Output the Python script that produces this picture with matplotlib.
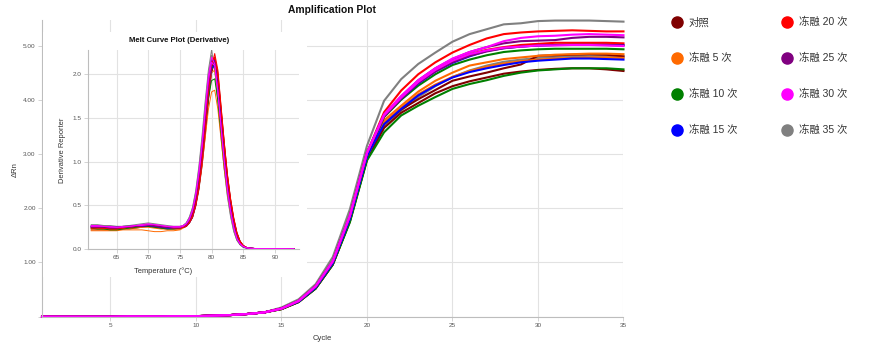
import numpy as np
import matplotlib.pyplot as plt
from matplotlib.lines import Line2D
from matplotlib.patches import Rectangle

plt.rcParams['font.family'] = ['Liberation Sans', 'Noto Sans CJK SC', 'DejaVu Sans']

# --- amplification data (delta Rn per cycle), two wells per group ---
cycles = np.arange(1, 36)
early = [0.0, 0.0, 0.0, 0.0, 0.0, 0.005, 0.005, 0.005, 0.01, 0.01, 0.02, 0.03, 0.05, 0.08]

# cycles 15..35
amp_ctrl_a = [.14, .27, .52, .96, 1.76, 2.90, 3.55, 3.82, 4.01, 4.18, 4.35, 4.43, 4.50, 4.58, 4.65, 4.81, 4.82, 4.83, 4.84, 4.83, 4.80]
amp_ctrl_b = [.14, .27, .52, .96, 1.76, 2.90, 3.48, 3.76, 3.94, 4.12, 4.25, 4.34, 4.41, 4.48, 4.52, 4.55, 4.57, 4.58, 4.58, 4.56, 4.53]
amp_5_a = [.15, .28, .54, .99, 1.81, 2.96, 3.62, 3.89, 4.15, 4.35, 4.50, 4.63, 4.69, 4.75, 4.78, 4.81, 4.83, 4.84, 4.85, 4.85, 4.84]
amp_5_b = [.15, .28, .54, .99, 1.81, 2.96, 3.58, 3.85, 4.10, 4.28, 4.42, 4.53, 4.61, 4.67, 4.71, 4.74, 4.76, 4.77, 4.78, 4.78, 4.77]
amp_10_a = [.15, .28, .54, .99, 1.81, 2.96, 3.68, 4.00, 4.26, 4.47, 4.64, 4.74, 4.82, 4.88, 4.91, 4.93, 4.94, 4.94, 4.94, 4.94, 4.93]
amp_10_b = [.14, .27, .52, .96, 1.74, 2.88, 3.40, 3.71, 3.89, 4.05, 4.20, 4.29, 4.36, 4.44, 4.50, 4.54, 4.56, 4.58, 4.58, 4.58, 4.56]
amp_15_a = [.15, .28, .54, .99, 1.81, 2.96, 3.55, 3.83, 4.08, 4.26, 4.41, 4.51, 4.58, 4.64, 4.69, 4.72, 4.74, 4.76, 4.76, 4.75, 4.74]
amp_15_b = [.15, .28, .54, .99, 1.81, 2.96, 3.70, 4.02, 4.30, 4.52, 4.68, 4.80, 4.90, 4.95, 4.98, 5.00, 5.01, 5.02, 5.02, 5.02, 5.01]
amp_20_a = [.15, .29, .56, 1.02, 1.86, 3.02, 3.77, 4.17, 4.47, 4.69, 4.87, 5.01, 5.13, 5.21, 5.24, 5.26, 5.27, 5.28, 5.27, 5.26, 5.26]
amp_20_b = [.15, .29, .56, 1.02, 1.86, 3.02, 3.70, 4.04, 4.33, 4.55, 4.72, 4.84, 4.92, 4.97, 5.01, 5.03, 5.05, 5.05, 5.05, 5.05, 5.04]
amp_25_a = [.15, .29, .56, 1.02, 1.86, 3.02, 3.72, 4.06, 4.36, 4.58, 4.75, 4.88, 4.97, 5.04, 5.08, 5.09, 5.10, 5.14, 5.16, 5.16, 5.15]
amp_25_b = [.15, .29, .56, 1.02, 1.86, 3.02, 3.69, 4.02, 4.31, 4.52, 4.69, 4.81, 4.89, 4.95, 4.98, 5.00, 5.01, 5.01, 5.01, 5.01, 5.00]
amp_30_a = [.15, .29, .56, 1.02, 1.86, 3.02, 3.73, 4.07, 4.36, 4.58, 4.76, 4.88, 4.97, 5.08, 5.14, 5.17, 5.18, 5.20, 5.21, 5.20, 5.19]
amp_30_b = [.15, .29, .56, 1.02, 1.86, 3.02, 3.71, 4.04, 4.33, 4.55, 4.72, 4.84, 4.91, 4.96, 4.98, 5.00, 5.00, 5.01, 5.01, 5.00, 4.99]
amp_35_a = [.17, .32, .60, 1.10, 1.98, 3.15, 3.98, 4.38, 4.66, 4.87, 5.07, 5.21, 5.30, 5.39, 5.41, 5.45, 5.46, 5.46, 5.46, 5.45, 5.44]
amp_35_b = [.15, .28, .54, .99, 1.81, 2.96, 3.50, 3.80, 4.05, 4.25, 4.42, 4.54, 4.63, 4.70, 4.74, 4.77, 4.79, 4.80, 4.81, 4.81, 4.80]

# --- melt curve data (derivative reporter) ---
temps = np.concatenate([np.arange(61, 76), np.arange(75.5, 86.5, 0.5), np.arange(87, 94)])

melt_ctrl_a = [.22, .22, .22, .22, .22, .23, .23, .24, .25, .26, .25, .24, .23, .23, .23,
               .25, .26, .30, .37, .50, .70, .98, 1.33, 1.74, 2.06, 2.20, 2.02, 1.62, 1.22, .85, .57, .35, .19, .09, .04, .02, .01,
               .006, .005, .005, .004, .004, .003, .002]
melt_ctrl_b = [.24, .24, .24, .23, .23, .24, .25, .25, .26, .27, .26, .25, .24, .24, .24,
               .25, .26, .30, .36, .49, .68, .95, 1.30, 1.70, 2.01, 2.15, 1.98, 1.59, 1.20, .84, .56, .34, .18, .09, .04, .02, .01,
               .006, .005, .005, .004, .004, .003, .002]
melt_5_a = [.21, .21, .21, .21, .21, .22, .22, .22, .22, .21, .20, .20, .21, .21, .22,
            .24, .26, .30, .37, .51, .71, .96, 1.28, 1.60, 1.80, 1.82, 1.60, 1.26, .92, .64, .42, .25, .12, .06, .03, .015, .01,
            .006, .005, .005, .004, .004, .003, .002]
melt_5_b = [.23, .23, .22, .22, .22, .23, .24, .24, .25, .25, .24, .23, .23, .23, .23,
            .25, .27, .32, .40, .56, .79, 1.07, 1.43, 1.80, 2.02, 2.05, 1.78, 1.40, 1.01, .70, .46, .26, .13, .06, .03, .015, .01,
            .006, .005, .005, .004, .004, .003, .002]
melt_10_a = [.24, .23, .23, .22, .22, .23, .24, .25, .26, .26, .25, .24, .23, .23, .24,
             .25, .27, .31, .39, .54, .76, 1.03, 1.38, 1.72, 1.93, 1.95, 1.70, 1.33, .97, .67, .44, .25, .12, .06, .03, .015, .01,
             .006, .005, .005, .004, .004, .003, .002]
melt_10_b = [.26, .26, .25, .25, .25, .26, .26, .27, .27, .28, .27, .26, .25, .25, .25,
             .26, .28, .33, .42, .58, .82, 1.11, 1.48, 1.85, 2.07, 2.10, 1.82, 1.43, 1.04, .71, .46, .27, .13, .06, .03, .015, .01,
             .006, .005, .005, .004, .004, .003, .002]
melt_15_a = [.25, .25, .25, .24, .24, .25, .25, .26, .26, .27, .26, .25, .24, .24, .24,
             .25, .26, .30, .37, .51, .73, 1.01, 1.38, 1.78, 2.06, 2.12, 1.90, 1.50, 1.10, .76, .50, .30, .15, .07, .03, .015, .01,
             .006, .005, .005, .004, .004, .003, .002]
melt_15_b = [.26, .26, .25, .25, .25, .25, .26, .26, .27, .27, .26, .26, .25, .25, .25,
             .26, .28, .34, .43, .60, .85, 1.15, 1.53, 1.90, 2.15, 2.16, 1.86, 1.45, 1.05, .72, .47, .27, .13, .06, .03, .015, .01,
             .006, .005, .005, .004, .004, .003, .002]
melt_20_a = [.24, .24, .24, .23, .23, .24, .25, .26, .27, .28, .27, .26, .25, .24, .24,
             .25, .26, .30, .37, .50, .70, .99, 1.35, 1.77, 2.10, 2.24, 2.05, 1.64, 1.23, .86, .58, .36, .19, .09, .04, .02, .01,
             .006, .005, .005, .004, .004, .003, .002]
melt_20_b = [.25, .25, .24, .24, .24, .25, .25, .26, .27, .28, .27, .26, .25, .25, .25,
             .25, .27, .31, .39, .53, .75, 1.04, 1.41, 1.82, 2.12, 2.20, 1.98, 1.58, 1.17, .81, .54, .33, .17, .08, .04, .02, .01,
             .006, .005, .005, .004, .004, .003, .002]
melt_25_a = [.26, .26, .26, .25, .25, .26, .26, .27, .27, .28, .27, .26, .25, .25, .25,
             .26, .28, .34, .44, .61, .86, 1.17, 1.56, 1.94, 2.17, 2.15, 1.84, 1.43, 1.03, .70, .45, .26, .13, .06, .03, .015, .01,
             .006, .005, .005, .004, .004, .003, .002]
melt_25_b = [.25, .25, .25, .24, .24, .25, .25, .26, .26, .27, .26, .25, .25, .25, .25,
             .26, .28, .33, .42, .58, .82, 1.12, 1.50, 1.88, 2.12, 2.14, 1.85, 1.45, 1.05, .72, .47, .27, .13, .06, .03, .015, .01,
             .006, .005, .005, .004, .004, .003, .002]
melt_30_a = [.27, .27, .26, .26, .25, .25, .26, .27, .28, .29, .28, .27, .26, .26, .26,
             .27, .29, .35, .45, .63, .89, 1.21, 1.61, 1.98, 2.20, 2.12, 1.80, 1.39, 1.00, .67, .43, .24, .12, .06, .03, .015, .01,
             .006, .005, .005, .004, .004, .003, .002]
melt_30_b = [.26, .26, .26, .25, .25, .26, .26, .27, .27, .28, .28, .27, .26, .25, .25,
             .26, .29, .34, .44, .61, .86, 1.17, 1.56, 1.93, 2.14, 2.10, 1.80, 1.40, 1.01, .69, .44, .25, .12, .06, .03, .015, .01,
             .006, .005, .005, .004, .004, .003, .002]
melt_35_a = [.28, .28, .27, .27, .26, .26, .27, .28, .29, .30, .29, .28, .27, .26, .26,
             .27, .30, .37, .48, .67, .95, 1.30, 1.70, 2.05, 2.28, 2.05, 1.68, 1.28, .91, .60, .37, .20, .10, .05, .02, .01, .01,
             .006, .005, .005, .004, .004, .003, .002]
melt_35_b = [.27, .27, .27, .26, .26, .26, .27, .27, .28, .29, .28, .27, .26, .26, .26,
             .27, .30, .36, .47, .65, .92, 1.25, 1.65, 2.01, 2.22, 2.06, 1.71, 1.31, .93, .62, .39, .21, .10, .05, .02, .01, .01,
             .006, .005, .005, .004, .004, .003, .002]

groups = ['对照', '冻融 5 次', '冻融 10 次', '冻融 15 次',
          '冻融 20 次', '冻融 25 次', '冻融 30 次', '冻融 35 次']
colors = ['#800000', '#ff6a00', '#008000', '#0000ff',
          '#ff0000', '#800080', '#ff00ff', '#808080']

amp = [(amp_ctrl_a, amp_ctrl_b), (amp_5_a, amp_5_b), (amp_10_a, amp_10_b), (amp_15_a, amp_15_b),
       (amp_20_a, amp_20_b), (amp_25_a, amp_25_b), (amp_30_a, amp_30_b), (amp_35_a, amp_35_b)]
melt = [(melt_ctrl_a, melt_ctrl_b), (melt_5_a, melt_5_b), (melt_10_a, melt_10_b), (melt_15_a, melt_15_b),
        (melt_20_a, melt_20_b), (melt_25_a, melt_25_b), (melt_30_a, melt_30_b), (melt_35_a, melt_35_b)]

# draw gray first so the coloured wells sit on top, magenta last
order = [7, 0, 1, 2, 3, 4, 5, 6]

grid_c = '#e2e2e2'
spine_c = '#bdbdbd'
text_c = '#555555'

fig = plt.figure(figsize=(8.83, 3.45), dpi=100)

# --- amplification plot ---
ax = fig.add_axes([0.0476, 0.082, 0.6585, 0.860], zorder=0)
for g in order:
    for well in amp[g]:
        ax.plot(cycles, early + well, color=colors[g], lw=1.5, clip_on=False)

ax.set_xlim(1, 35)
ax.set_ylim(0, 5.47)
ax.set_xticks([5, 10, 15, 20, 25, 30, 35])
ax.set_yticks([0, 1, 2, 3, 4, 5])
ax.set_yticklabels(['', '1.00', '2.00', '3.00', '4.00', '5.00'])
ax.grid(color=grid_c, lw=0.8)
ax.set_axisbelow(True)
for s in ['top', 'right']:
    ax.spines[s].set_visible(False)
for s in ['left', 'bottom']:
    ax.spines[s].set_color(spine_c)
ax.tick_params(labelsize=4.6, colors=text_c, length=3, width=0.6, pad=1.5)
ax.tick_params(color='#cccccc')

fig.text(322 / 883, 1 - 339 / 345, 'Cycle', ha='center', va='center',
         fontsize=5.5, color='#333333')
fig.text(15 / 883, 1 - 170 / 345, 'ΔRn', ha='center', va='center',
         rotation=90, fontsize=5.5, color='#333333')
fig.text(332 / 883, 1 - 10 / 345, 'Amplification Plot', ha='center', va='center',
         fontsize=7.4, fontweight='bold', color='#111111')

# white panel that holds the melt curve inset
fig.patches.append(Rectangle((43 / 883, 1 - 277 / 345), 264 / 883, 245 / 345,
                             transform=fig.transFigure, facecolor='white',
                             edgecolor='none', zorder=1))

# --- melt curve inset ---
ins = fig.add_axes([0.0997, 0.278, 0.2389, 0.577], zorder=2)
for g in order:
    for well in melt[g]:
        ins.plot(temps, well, color=colors[g], lw=0.7)

ins.set_xlim(60.5, 93.8)
ins.set_ylim(0, 2.28)
ins.set_xticks([65, 70, 75, 80, 85, 90])
ins.set_yticks([0, 0.5, 1.0, 1.5, 2.0])
ins.set_yticklabels(['0.0', '0.5', '1.0', '1.5', '2.0'])
ins.grid(color=grid_c, lw=0.8)
ins.set_axisbelow(True)
for s in ['top', 'right']:
    ins.spines[s].set_visible(False)
for s in ['left', 'bottom']:
    ins.spines[s].set_color(spine_c)
ins.tick_params(labelsize=4.6, colors=text_c, length=3, width=0.6, pad=1.5)
ins.tick_params(color='#cccccc')

fig.text(179 / 883, 1 - 40 / 345, 'Melt Curve Plot (Derivative)', ha='center', va='center',
         fontsize=5.6, fontweight='bold', color='#111111')
fig.text(62 / 883, 1 - 150 / 345, 'Derivative Reporter', ha='center', va='center',
         rotation=90, fontsize=5.4, color='#333333')
fig.text(163 / 883, 1 - 271.5 / 345, 'Temperature (°C)', ha='center', va='center',
         fontsize=5.4, color='#333333')

# --- legend ---
handles = [Line2D([], [], marker='o', linestyle='', markersize=8, color=c) for c in colors]
fig.legend(handles, groups, loc='upper left', bbox_to_anchor=(672 / 883, 1 - 17 / 345),
           ncol=2, frameon=False, fontsize=7.5, labelspacing=2.47, handlelength=1.0,
           handletextpad=0.6, columnspacing=4.3, borderaxespad=0, borderpad=0,
           labelcolor='#333333')

fig.savefig('out.png', dpi=100)
